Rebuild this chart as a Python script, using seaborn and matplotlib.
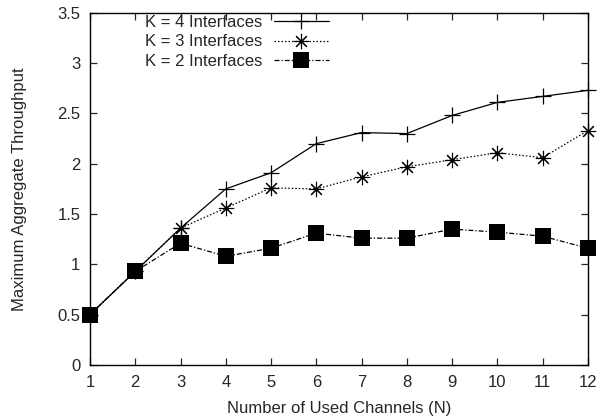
import matplotlib
matplotlib.use("Agg")
import matplotlib.pyplot as plt
import seaborn as sns
import pandas as pd

channels = [1, 2, 3, 4, 5, 6, 7, 8, 9, 10, 11, 12]
k4 = [0.50, 0.93, 1.36, 1.75, 1.91, 2.20, 2.31, 2.30, 2.48, 2.61, 2.67, 2.73]
k3 = [0.50, 0.93, 1.36, 1.56, 1.76, 1.75, 1.87, 1.97, 2.04, 2.11, 2.06, 2.33]
k2 = [0.50, 0.93, 1.21, 1.08, 1.16, 1.31, 1.26, 1.26, 1.35, 1.32, 1.28, 1.16]
labels = ["K = 4 Interfaces", "K = 3 Interfaces", "K = 2 Interfaces"]
yticks = [0, 0.5, 1, 1.5, 2, 2.5, 3, 3.5]
ytick_labels = ["0", "0.5", "1", "1.5", "2", "2.5", "3", "3.5"]

sns.set_style("ticks")
plt.rcParams["font.family"] = ["Liberation Sans", "DejaVu Sans"]

df = pd.DataFrame({
    "N": channels * 3,
    "val": k4 + k3 + k2,
    "series": [labels[0]] * 12 + [labels[1]] * 12 + [labels[2]] * 12,
})

fig = plt.figure(figsize=(6.06, 4.17), dpi=100)
ax = fig.add_axes([0.1485, 0.125, 0.8215, 0.844])

FS = 12
styles = [
    dict(linestyle="-", marker="+", markersize=12, markeredgewidth=0.9),
    dict(linestyle=(0, (1.2, 1.6)), marker=(8, 2, 0), markersize=11, markeredgewidth=0.8),
    dict(linestyle=(0, (4, 1.6, 1, 1.6)), marker="s", markersize=11, markeredgewidth=0),
]
for lab, st in zip(labels, styles):
    sub = df[df["series"] == lab]
    sns.lineplot(data=sub, x="N", y="val", ax=ax, color="black", linewidth=0.9,
                 label=lab, markerfacecolor="black", markeredgecolor="black",
                 clip_on=False, **st)

ax.set_xlim(1, 12)
ax.set_ylim(0, 3.5)
ax.set_xticks(channels)
ax.set_yticks(yticks)
ax.set_yticklabels(ytick_labels)
ax.tick_params(direction="in", length=5, width=0.9, top=True, right=True,
               labelsize=FS, pad=7)
for s in ax.spines.values():
    s.set_linewidth(1.0)
    s.set_color("black")
ax.set_xlabel("Number of Used Channels (N)", fontsize=FS, labelpad=8)
ax.set_ylabel("Maximum Aggregate Throughput", fontsize=FS, labelpad=22)

leg = ax.legend(loc="upper left", bbox_to_anchor=(0.09, 1.022), frameon=False,
                markerfirst=False, fontsize=FS, handlelength=3.3,
                labelspacing=0.25, borderaxespad=0.2, handletextpad=0.7)
fig.canvas.draw()
# right-align legend texts
w = max(t.get_window_extent().width for t in leg.get_texts())
for t in leg.get_texts():
    t.set_position((w - t.get_window_extent().width, 0))

fig.savefig("out.png", dpi=100)
